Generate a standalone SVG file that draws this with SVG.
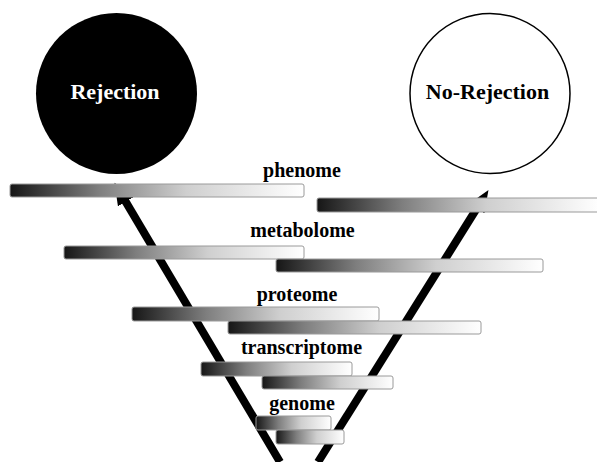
<svg xmlns="http://www.w3.org/2000/svg" width="597" height="462" viewBox="0 0 597 462">
<style>
.bar{fill:url(#g);stroke:#9a9a9a;stroke-width:1}
.lbl{font-family:"Liberation Serif","Times New Roman",serif;font-weight:bold;font-size:20px;text-anchor:middle;fill:#000}
.ctext{font-family:"Liberation Serif","Times New Roman",serif;font-weight:bold;font-size:22px;text-anchor:middle}
.arrow{stroke:#000;stroke-width:8;fill:none;marker-end:url(#ah)}
</style>
<defs>
<linearGradient id="g" x1="0" y1="0" x2="1" y2="0">
<stop offset="0" stop-color="#161616"/>
<stop offset="0.3" stop-color="#7e7e7e"/>
<stop offset="0.6" stop-color="#cfcfcf"/>
<stop offset="1" stop-color="#ffffff"/>
</linearGradient>
<marker id="ah" markerUnits="userSpaceOnUse" markerWidth="24" markerHeight="20" refX="1" refY="9" orient="auto">
<path d="M0,0 L22,9 L0,18 z" fill="#000"/>
</marker>
</defs>
<rect width="597" height="462" fill="#fff"/>
<g id="rejection">
<circle cx="116.5" cy="93.5" r="80.5" fill="#000"/>
<text class="ctext" x="115" y="99" fill="#fff">Rejection</text>
</g>
<g id="no-rejection">
<circle cx="490" cy="93.5" r="80" fill="#fff" stroke="#000" stroke-width="1.5"/>
<text class="ctext" x="487.5" y="99" fill="#000">No-Rejection</text>
</g>
<g id="connectors">
<line class="arrow" x1="280" y1="462" x2="125.2" y2="200.9"/>
<line class="arrow" x1="318" y1="462" x2="477.3" y2="207.7"/>
</g>
<g id="phenome">
<rect class="bar" x="10" y="184" width="294" height="13" rx="2"/>
<rect class="bar" x="317" y="198" width="283" height="14" rx="2"/>
<text class="lbl" x="302" y="177">phenome</text>
</g>
<g id="metabolome">
<rect class="bar" x="64" y="246" width="240" height="13" rx="2"/>
<rect class="bar" x="276" y="259" width="267" height="13" rx="2"/>
<text class="lbl" x="302.5" y="237">metabolome</text>
</g>
<g id="proteome">
<rect class="bar" x="132" y="307" width="247" height="14" rx="2"/>
<rect class="bar" x="228" y="321" width="253" height="13" rx="2"/>
<text class="lbl" x="297" y="301">proteome</text>
</g>
<g id="transcriptome">
<rect class="bar" x="201" y="362" width="151" height="14" rx="2"/>
<rect class="bar" x="262" y="376" width="131" height="13" rx="2"/>
<text class="lbl" x="301.5" y="354">transcriptome</text>
</g>
<g id="genome">
<rect class="bar" x="256" y="416" width="75" height="14" rx="2"/>
<rect class="bar" x="276" y="430" width="68" height="14" rx="2"/>
<text class="lbl" x="302" y="410">genome</text>
</g>
</svg>
